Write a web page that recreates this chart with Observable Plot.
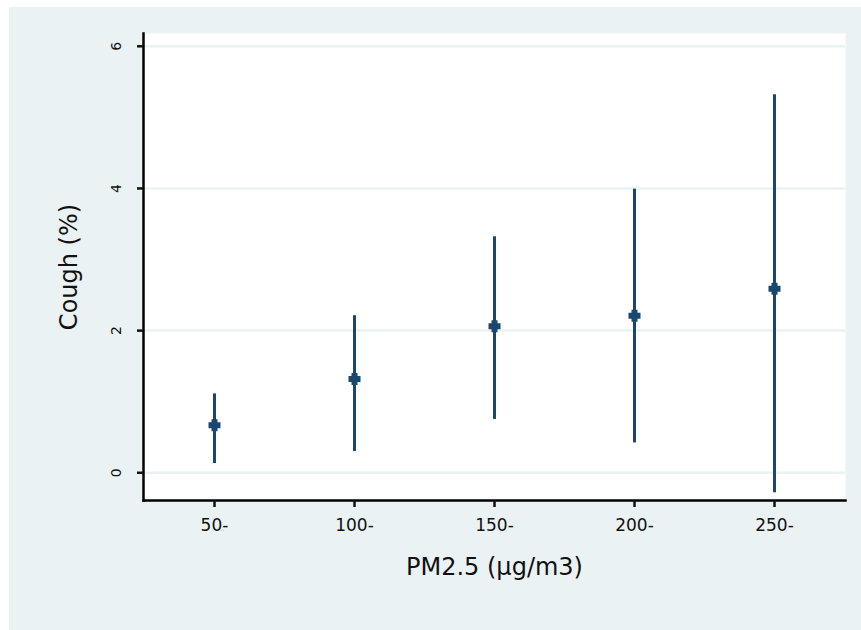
<!DOCTYPE html>
<html>
<head>
<meta charset="utf-8">
<script src="https://cdn.jsdelivr.net/npm/d3@7"></script>
<script src="https://cdn.jsdelivr.net/npm/@observablehq/plot@0.6"></script>
<style>
  html, body { margin: 0; padding: 0; background: #ffffff; }
  #chart { position: absolute; left: 9px; top: 7px; width: 852px; height: 623px; background: #EAF2F3; }
  #chart svg { background: transparent; }
</style>
</head>
<body>
<div id="chart"></div>
<script>
// Data
const categories = ["50-", "100-", "150-", "200-", "250-"];
const estimate = [0.67, 1.32, 2.06, 2.21, 2.59];
const lower = [0.13, 0.30, 0.75, 0.42, -0.28];
const upper = [1.11, 2.21, 3.32, 3.99, 5.32];
const yTicks = [0, 2, 4, 6];
const xTitle = "PM2.5 (μg/m3)";
const yTitle = "Cough (%)";

const rows = categories.map((c, i) => ({cat: c, est: estimate[i], lo: lower[i], hi: upper[i]}));

const navy = "#1a476f";
const bg = "#EAF2F3";

// fat cross marker (Stata-like)
const fatCross = {
  draw(ctx, size) {
    const a = Math.sqrt(size / Math.PI);
    const t = a / 2;
    ctx.moveTo(-a, -t);
    ctx.lineTo(-t, -t);
    ctx.lineTo(-t, -a);
    ctx.lineTo(t, -a);
    ctx.lineTo(t, -t);
    ctx.lineTo(a, -t);
    ctx.lineTo(a, t);
    ctx.lineTo(t, t);
    ctx.lineTo(t, a);
    ctx.lineTo(-t, a);
    ctx.lineTo(-t, t);
    ctx.lineTo(-a, t);
    ctx.closePath();
  }
};

const chart = Plot.plot({
  width: 852,
  height: 623,
  marginLeft: 134,
  marginRight: 16,
  marginTop: 26,
  marginBottom: 130,
  style: {fontFamily: "DejaVu Sans", color: "#111", background: "transparent"},
  x: {type: "point", domain: categories, padding: 0.5},
  y: {domain: [-0.39, 6.18]},
  marks: [
    Plot.frame({fill: "white", stroke: null}),
    Plot.gridY({ticks: yTicks, stroke: bg, strokeOpacity: 1, strokeWidth: 2.5}),
    Plot.frame({anchor: "left", stroke: "black", strokeWidth: 2.5}),
    Plot.frame({anchor: "bottom", stroke: "black", strokeWidth: 2.5}),
    Plot.axisY({ticks: yTicks, tickSize: 6, strokeWidth: 2.5, tickFormat: () => "", label: null}),
    Plot.text(yTicks, {y: d => d, text: d => String(d), frameAnchor: "left", textAnchor: "middle", lineAnchor: "middle", dx: -27, rotate: -90, fontSize: 14, fill: "#111"}),
    Plot.axisX({tickSize: 7, tickPadding: 11, strokeWidth: 2.5, fontSize: 17, label: null}),
    Plot.text([xTitle], {text: d => d, frameAnchor: "bottom", textAnchor: "middle", lineAnchor: "middle", dy: 67, fontSize: 24, fill: "#111"}),
    Plot.text([yTitle], {text: d => d, frameAnchor: "left", textAnchor: "middle", lineAnchor: "middle", dx: -74, rotate: -90, fontSize: 24, fill: "#111"}),
    Plot.ruleX(rows, {x: "cat", y1: "lo", y2: "hi", stroke: navy, strokeWidth: 3}),
    Plot.dot(rows, {x: "cat", y: "est", symbol: fatCross, r: 6, fill: navy, stroke: null})
  ]
});
document.getElementById("chart").appendChild(chart);
</script>
</body>
</html>
